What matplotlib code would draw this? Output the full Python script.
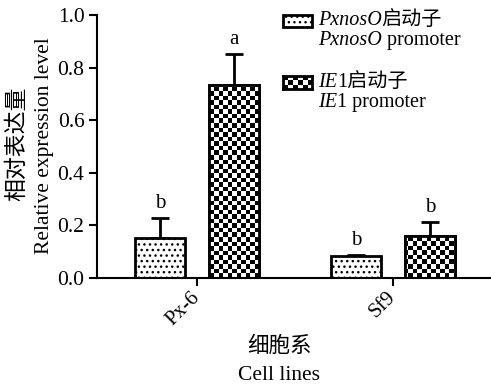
import numpy as np
import matplotlib
matplotlib.use("Agg")
import matplotlib.pyplot as plt
from matplotlib.patches import Rectangle
from matplotlib.offsetbox import TextArea, HPacker, VPacker, AnchoredOffsetbox

plt.rcParams['font.family'] = ['Liberation Serif', 'Noto Sans CJK SC']
plt.rcParams['hatch.linewidth'] = 1.0
plt.rcParams['hatch.color'] = 'black'

# ---- data ----
cell_lines = ["Px-6", "Sf9"]
pxnos_mean = [0.152, 0.084]
pxnos_err = [0.076, 0.004]
ie1_mean = [0.734, 0.160]
ie1_err = [0.118, 0.053]
pxnos_sig = ["b", "b"]
ie1_sig = ["a", "b"]
yticks = [0.0, 0.2, 0.4, 0.6, 0.8, 1.0]

W, H = 491, 385
fig = plt.figure(figsize=(W / 100, H / 100), dpi=100)
ax = fig.add_axes([97 / W, 107 / H, 393 / W, 263 / H])

x = np.arange(len(cell_lines))
off, bw = 0.19, 0.255

ax.errorbar(x - off, pxnos_mean, yerr=[np.zeros(2), pxnos_err], fmt="none",
            ecolor="k", elinewidth=2, capsize=6.2, capthick=2, zorder=1)
ax.errorbar(x + off, ie1_mean, yerr=[np.zeros(2), ie1_err], fmt="none",
            ecolor="k", elinewidth=2, capsize=6.2, capthick=2, zorder=1)

ax.bar(x - off, pxnos_mean, bw, facecolor="white", edgecolor="k", lw=2,
       hatch="...", zorder=2)
ie1_bars = ax.bar(x + off, ie1_mean, bw, facecolor="white", edgecolor="k",
                  lw=2, zorder=2)

xlim = (-0.51, 1.495)
ax.set_xlim(*xlim)
ax.set_ylim(0, 1.0)

# checkerboard fill for the IE1 bars (texture clipped to each bar)
nx, ny = 87, 58
checker = (np.indices((ny, nx)).sum(axis=0) % 2).astype(float)
for b in ie1_bars:
    im = ax.imshow(checker, cmap="gray", extent=(xlim[0], xlim[1], 0, 1),
                   aspect="auto", interpolation="nearest", zorder=2.5)
    im.set_clip_path(b)
ax.bar(x + off, ie1_mean, bw, fill=False, edgecolor="k", lw=2, zorder=3)
ax.set_xlim(*xlim)
ax.set_ylim(0, 1.0)

for xi, m, e, s in zip(x - off, pxnos_mean, pxnos_err, pxnos_sig):
    ax.text(xi, m + e + 0.02, s, ha="center", va="bottom", fontsize=15)
for xi, m, e, s in zip(x + off, ie1_mean, ie1_err, ie1_sig):
    ax.text(xi, m + e + 0.02, s, ha="center", va="bottom", fontsize=15)

for sp in ["top", "right"]:
    ax.spines[sp].set_visible(False)
for sp in ["left", "bottom"]:
    ax.spines[sp].set_linewidth(1.5)
ax.set_yticks(yticks)
ax.set_yticklabels([f"{v:.1f}" for v in yticks], fontsize=15.5)
ax.set_xticks(x)
ax.set_xticklabels(cell_lines, rotation=45, ha="right", va="center",
                   rotation_mode="anchor", fontsize=15)
ax.tick_params(width=1.5, length=6, pad=3)
ax.tick_params(axis="x", pad=6)

# axis titles
fig.text(17 / W, 1 - 144 / H, "相对表达量", rotation=90, ha="center",
         va="center", fontsize=16.5)
fig.text(45 / W, 1 - 146 / H, "Relative expression level", rotation=90,
         ha="center", va="center", fontsize=15.5)
fig.text(279 / W, 1 - 347 / H, "细胞系", ha="center", va="center", fontsize=15.5)
fig.text(279 / W, 1 - 376 / H, "Cell lines", ha="center", va="center",
         fontsize=15.5)

# legend, drawn by hand
fig.add_artist(Rectangle((283 / W, 1 - 27 / H), 29 / W, 12 / H,
                         transform=fig.transFigure, facecolor="white",
                         edgecolor="k", lw=2, hatch="..."))
sw = fig.add_axes([283 / W, 1 - 89 / H, 29 / W, 13 / H])
sw.imshow(checker[:3, :6], cmap="gray", aspect="auto", interpolation="nearest")
sw.set_xticks([])
sw.set_yticks([])
for sp in sw.spines.values():
    sp.set_linewidth(2)

ital = dict(fontsize=14.5, style="italic")
reg = dict(fontsize=14.5)


def line(*parts):
    return HPacker(children=[TextArea(t, textprops=p) for t, p in parts],
                   sep=0, pad=0, align="baseline")


for top, l1, l2 in [
    (11, line(("PxnosO", ital), ("启动子", reg)),
     line(("PxnosO", ital), (" promoter", reg))),
    (73, line(("IE", ital), ("1启动子", reg)),
     line(("IE", ital), ("1 promoter", reg))),
]:
    box = VPacker(children=[l1, l2], sep=1, pad=0, align="left")
    ab = AnchoredOffsetbox(loc="upper left", child=box, frameon=False, pad=0,
                           borderpad=0, bbox_to_anchor=(318 / W, 1 - top / H),
                           bbox_transform=fig.transFigure)
    fig.add_artist(ab)

fig.savefig("out.png", dpi=100)
